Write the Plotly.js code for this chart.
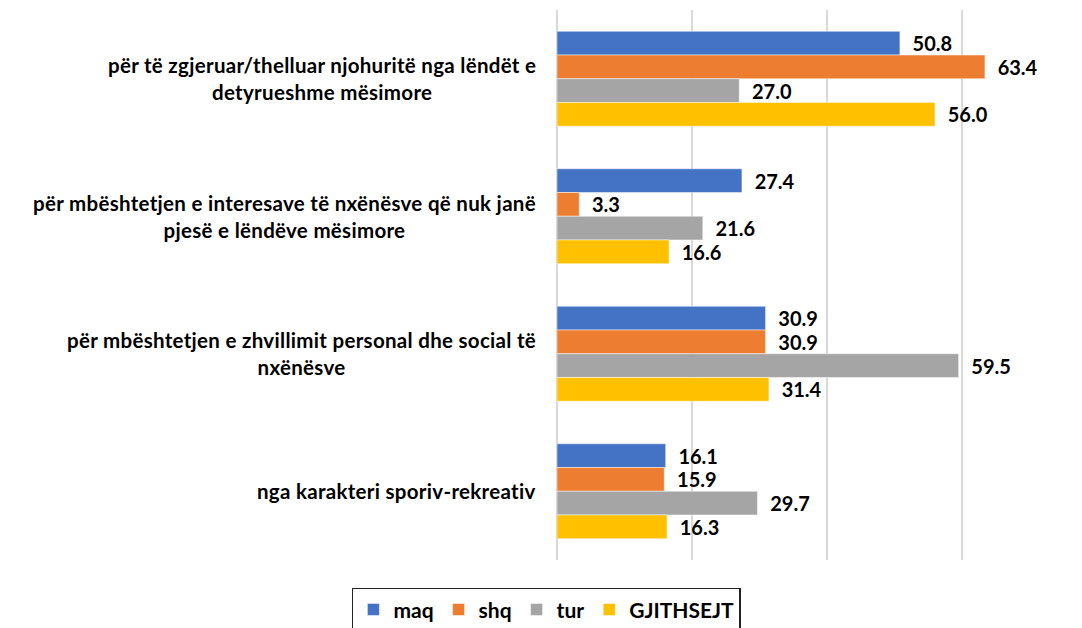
<!DOCTYPE html>
<html>
<head>
<meta charset="utf-8">
<script src="https://cdn.plot.ly/plotly-3.0.1.min.js"></script>
<style>html,body{margin:0;padding:0;background:#fff;}#chart{width:1082px;height:628px;}
.annotation-text{letter-spacing:0.3px;}</style>
</head>
<body>
<div id="chart"></div>
<script>
const categories = [
  "për të zgjeruar/thelluar njohuritë nga lëndët e<br>detyrueshme mësimore",
  "për mbështetjen e interesave të nxënësve që nuk janë<br>pjesë e lëndëve mësimore",
  "për mbështetjen e zhvillimit personal dhe social të<br>nxënësve",
  "nga karakteri sporiv-rekreativ"
];
const seriesNames = ["maq", "shq", "tur", "GJITHSEJT"];
const maq = [50.8, 27.4, 30.9, 16.1];
const shq = [63.4, 3.3, 30.9, 15.9];
const tur = [27.0, 21.6, 59.5, 29.7];
const gjithsejt = [56.0, 16.6, 31.4, 16.3];
const colors = ["#4472C4", "#ED7D31", "#A5A5A5", "#FFC000"];

const values = [maq, shq, tur, gjithsejt];
const font = "Lato, 'Open Sans', sans-serif";

const traces = values.map((v, i) => ({
  type: "bar",
  orientation: "h",
  name: seriesNames[i],
  y: categories,
  x: v,
  marker: {color: colors[i], line: {color: "rgba(255,255,255,0.6)", width: 0.8}},
  text: v.map(d => "\u00a0\u00a0" + d.toFixed(1)),
  textposition: "outside",
  textfont: {family: font, size: 20, color: "#000", weight: 700},
  constraintext: "none",
  cliponaxis: false,
  hoverinfo: "skip"
}));

const annotations = categories.map(c => ({
  xref: "paper", yref: "y", x: -0.037, y: c,
  xanchor: "right", yanchor: "middle", align: "center",
  text: c, showarrow: false,
  font: {family: font, size: 20.5, color: "#000", weight: 700}
}));

const layout = {
  width: 1082, height: 628,
  margin: {l: 557, r: 12, t: 10, b: 68},
  paper_bgcolor: "#fff", plot_bgcolor: "#fff",
  barmode: "group",
  bargap: 0.31, bargroupgap: 0,
  showlegend: true,
  legend: {
    orientation: "h", xref: "container", yref: "container",
    x: 0.505, xanchor: "center", y: 0.064, yanchor: "top",
    bordercolor: "#222", borderwidth: 1.5,
    font: {family: font, size: 21, color: "#000", weight: 700},
    traceorder: "normal"
  },
  xaxis: {
    range: [0, 76], dtick: 20, tick0: 0,
    showgrid: true, gridcolor: "#D9D9D9", gridwidth: 1.5,
    zeroline: true, zerolinecolor: "#D9D9D9", zerolinewidth: 1.5,
    showticklabels: false, showline: false, ticks: ""
  },
  yaxis: {
    autorange: "reversed", showticklabels: false, ticks: "",
    showgrid: false, zeroline: false, showline: false
  },
  annotations: annotations
};

Plotly.newPlot("chart", traces, layout, {displayModeBar: false, staticPlot: true});
</script>
</body>
</html>
